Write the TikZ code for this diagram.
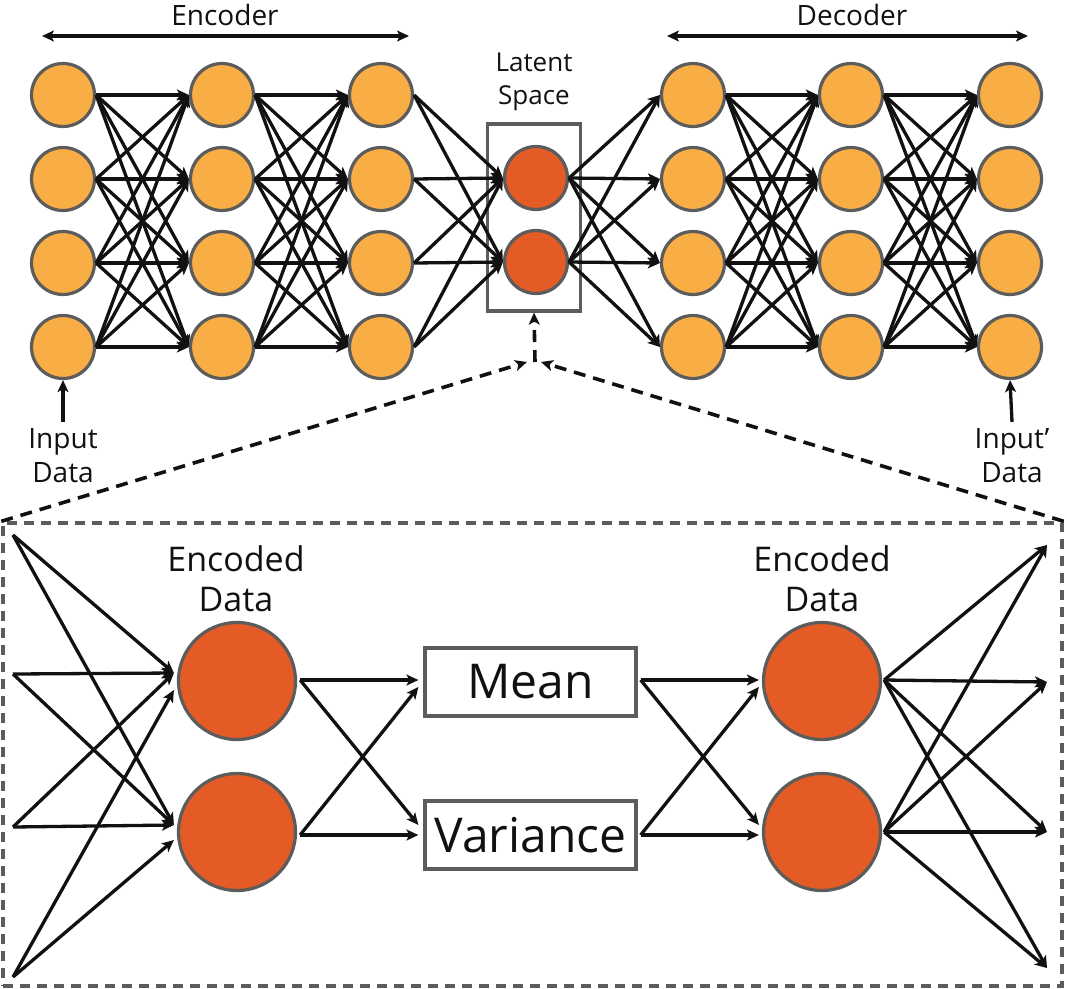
\documentclass[tikz,border=0pt]{standalone}
\usepackage{fontspec}
\setmainfont{Open Sans}
\usetikzlibrary{arrows.meta,calc}
\definecolor{nodeor}{HTML}{F8AE44}
\definecolor{noderd}{HTML}{E55B25}
\definecolor{bordgr}{HTML}{5C5C5C}
\definecolor{linebk}{HTML}{111111}
\begin{document}
\begin{tikzpicture}[x=1pt,y=-1pt,
  onode/.style={circle,draw=bordgr,line width=3.2pt,fill=nodeor,minimum size=63pt,inner sep=0pt},
  rnode/.style={circle,draw=bordgr,line width=3.2pt,fill=noderd,minimum size=63pt,inner sep=0pt},
  bignode/.style={circle,draw=bordgr,line width=3.2pt,fill=noderd,minimum size=117pt,inner sep=0pt},
  conn/.style={draw=linebk,line width=3.3pt,-{Stealth[length=12pt,width=11pt,inset=3pt]}},
  dconn/.style={draw=linebk,line width=3.6pt,dash pattern=on 12pt off 8pt,-{Stealth[length=12pt,width=11pt,inset=3pt]}},
  lab/.style={font=\fontsize{28}{34}\selectfont,text=linebk,inner sep=0pt,align=center},
  encl/.style={font=\fontsize{34}{40}\selectfont,text=linebk,inner sep=0pt,align=center},
  bigbox/.style={draw=bordgr,line width=3.2pt,minimum width=211pt,minimum height=68pt,inner sep=0pt,font=\fontsize{48}{56}\selectfont,text=linebk}
]
\useasboundingbox (0,0) rectangle (1067,988);

% ---------- top network ----------
\foreach \r/\y in {1/95,2/179,3/263,4/347}{
  \node[onode] (a\r) at (63,\y) {};
  \node[onode] (b\r) at (222,\y) {};
  \node[onode] (c\r) at (381,\y) {};
  \node[onode] (d\r) at (693,\y) {};
  \node[onode] (f\r) at (851,\y) {};
  \node[onode] (g\r) at (1010,\y) {};
}
\node[draw=bordgr,line width=3.2pt,minimum width=93pt,minimum height=187pt,inner sep=0pt] (lbox) at (534,217.5) {};
\node[rnode] (l1) at (536,178) {};
\node[rnode] (l2) at (536,262) {};

\foreach \i in {1,...,4}{
  \foreach \j in {1,...,4}{
    \draw[conn] (a\i.east) -- (b\j.west);
    \draw[conn] (b\i.east) -- (c\j.west);
    \draw[conn] (d\i.east) -- (f\j.west);
    \draw[conn] (f\i.east) -- (g\j.west);
  }
  \foreach \k in {1,2}{
    \draw[conn] (c\i.east) -- (l\k.west);
    \draw[conn] (l\k.east) -- (d\i.west);
  }
}

% labels top
\node[lab,anchor=base] (enc) at (225,25) {Encoder};
\node[lab,anchor=base] (dec) at (852,25) {Decoder};
\coordinate (encL) at (42,36);
\coordinate (encR) at (409,36);
\coordinate (decL) at (667,36);
\coordinate (decR) at (1028,36);
\draw[conn,{Stealth[length=12pt,width=11pt,inset=3pt]}-{Stealth[length=12pt,width=11pt,inset=3pt]}] (encL) -- (encR);
\draw[conn,{Stealth[length=12pt,width=11pt,inset=3pt]}-{Stealth[length=12pt,width=11pt,inset=3pt]}] (decL) -- (decR);

\node[lab,font=\fontsize{26}{33}\selectfont,anchor=north] (lat) at (534,53) {Latent\\Space};

\node[lab,anchor=north] (inp) at (63,428) {Input\\Data};
\node[lab,anchor=north] (outp) at (1012,428) {Input’\\Data};
\coordinate (inpA) at (63,422);
\coordinate (outpA) at (1012,422);
\draw[conn] (inpA) -- (a4.south);
\draw[conn] (outpA) -- (g4.south);

% ---------- zoom box ----------
\node[draw=bordgr,line width=3.4pt,dash pattern=on 10pt off 7pt,minimum width=1059pt,minimum height=463pt,inner sep=0pt] (dbox) at (532.5,754.5) {};
\coordinate (dv) at (535,362);
\coordinate (dvl) at (527,362);
\coordinate (dvr) at (541,362);
\draw[dconn] (dv) -- (lbox.south);
\draw[dconn] (dbox.north west) -- (dvl);
\draw[dconn] (dbox.north east) -- (dvr);

% ---------- bottom network ----------
\node[bignode] (e1) at (237,681) {};
\node[bignode] (e2) at (237,832) {};
\node[bignode] (h1) at (822,681) {};
\node[bignode] (h2) at (822,832) {};
\node[bigbox] (mean) at (530.5,682) {Mean};
\node[bigbox] (var) at (530.5,835) {Variance};
\node[encl,anchor=north] (el) at (236,545) {Encoded\\Data};
\node[encl,anchor=north] (hl) at (822,545) {Encoded\\Data};

\coordinate (p1) at (13,535);
\coordinate (p2) at (13,674);
\coordinate (p3) at (13,827);
\coordinate (p4) at (13,977);
\foreach \p in {1,2,3}{
  \draw[conn] (p\p) -- ($(e1.west)+(-3,-8)$);
  \draw[conn] (p\p) -- ($(e2.west)+(-3,-7)$);
}
\draw[conn] (p4) -- ($(e1.west)+(-3,9)$);
\draw[conn] (p4) -- ($(e2.west)+(-3,8)$);

\draw[conn] ($(e1.east)+(3,-1)$) -- ($(mean.west)+(-5,-2)$);
\draw[conn] ($(e1.east)+(3,-1)$) -- ($(var.west)+(-5,-10)$);
\draw[conn] ($(e2.east)+(3,3)$) -- ($(mean.west)+(-5,5)$);
\draw[conn] ($(e2.east)+(3,3)$) -- ($(var.west)+(-5,0)$);

\draw[conn] ($(mean.east)+(3,-2)$) -- ($(h1.west)+(-3,-1)$);
\draw[conn] ($(mean.east)+(3,-2)$) -- ($(h2.west)+(-3,-7)$);
\draw[conn] ($(var.east)+(3,0)$) -- ($(h1.west)+(-3,6)$);
\draw[conn] ($(var.east)+(3,0)$) -- ($(h2.west)+(-3,3)$);

\coordinate (q1) at (1047,545);
\coordinate (q2) at (1047,682);
\coordinate (q3) at (1047,832);
\coordinate (q4) at (1047,968);
\foreach \q in {1,...,4}{
  \draw[conn] ($(h1.east)+(2,-1)$) -- (q\q);
  \draw[conn] ($(h2.east)+(2,0)$) -- (q\q);
}
\end{tikzpicture}
\end{document}
